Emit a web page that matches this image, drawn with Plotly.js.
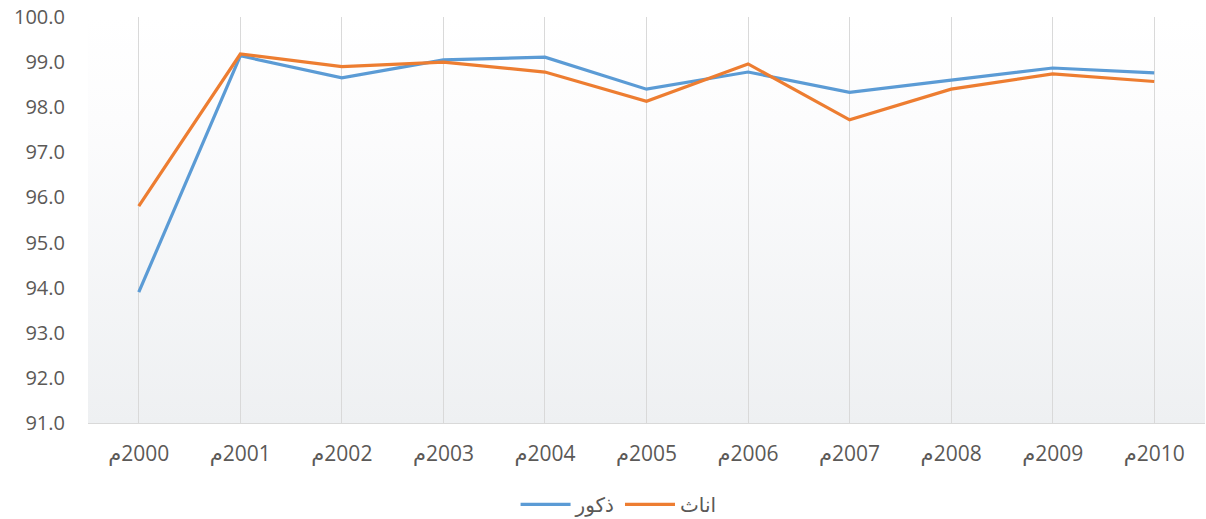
<!DOCTYPE html>
<html>
<head>
<meta charset="utf-8">
<script src="https://cdn.plot.ly/plotly-3.0.1.min.js"></script>
<style>html,body{margin:0;padding:0;background:#fff;}#chart{width:1206px;height:519px;}</style>
</head>
<body>
<div id="chart"></div>
<script>
const years = ["2000","2001","2002","2003","2004","2005","2006","2007","2008","2009","2010"];
const tickLabels = years.map(y => "\u200F" + y + "م");
const maleName = "ذكور";
const femaleName = "اناث";
const maleValues = [93.9, 99.14, 98.65, 99.05, 99.11, 98.40, 98.78, 98.33, 98.60, 98.87, 98.76];
const femaleValues = [95.81, 99.18, 98.90, 99.00, 98.78, 98.13, 98.96, 97.72, 98.40, 98.74, 98.57];

const gradSvg = '<svg xmlns="http://www.w3.org/2000/svg" width="10" height="100" preserveAspectRatio="none"><defs><linearGradient id="g" x1="0" y1="0" x2="0" y2="1"><stop offset="0" stop-color="#ffffff"/><stop offset="0.25" stop-color="#fcfcfd"/><stop offset="1" stop-color="#eef0f2"/></linearGradient></defs><rect width="10" height="100" fill="url(#g)"/></svg>';
const gradUri = 'data:image/svg+xml;base64,' + btoa(gradSvg);

const traces = [
  {x: years, y: maleValues, name: maleName, type: 'scatter', mode: 'lines',
   line: {color: '#5b9bd5', width: 3.2}},
  {x: years, y: femaleValues, name: femaleName, type: 'scatter', mode: 'lines',
   line: {color: '#ed7d31', width: 3.2}}
];

const layout = {
  width: 1206, height: 519,
  margin: {l: 88, r: 1, t: 17, b: 96, autoexpand: false},
  paper_bgcolor: '#ffffff',
  plot_bgcolor: 'rgba(0,0,0,0)',
  font: {family: '"Open Sans", "DejaVu Sans", sans-serif', color: '#5b5957', size: 20},
  images: [{source: gradUri, xref: 'paper', yref: 'paper', x: 0, y: 1, sizex: 1, sizey: 1,
            sizing: 'stretch', layer: 'below', xanchor: 'left', yanchor: 'top'}],
  xaxis: {
    type: 'category', tickvals: years, ticktext: tickLabels,
    showgrid: true, gridcolor: '#d9d9d9', gridwidth: 1,
    showline: true, linecolor: '#d9d9d9', linewidth: 1,
    ticks: '', ticklabelstandoff: 12, zeroline: false, automargin: false,
    range: [-0.5, 10.5], fixedrange: true,
    tickfont: {size: 21, color: '#5b5957'}
  },
  yaxis: {
    range: [91, 100], dtick: 1, tick0: 91, tickformat: '.1f',
    showgrid: false, zeroline: false, showline: false, ticks: '', automargin: false,
    ticklabelstandoff: 22,
    tickfont: {size: 20, color: '#5b5957'}
  },
  showlegend: true,
  legend: {orientation: 'h', x: 0.475, xanchor: 'center', yref: 'container', y: 0.028, yanchor: 'middle',
           font: {size: 20, color: '#5b5957'}, itemwidth: 50, traceorder: 'normal'}
};

Plotly.newPlot('chart', traces, layout, {displayModeBar: false, staticPlot: true});
</script>
</body>
</html>
